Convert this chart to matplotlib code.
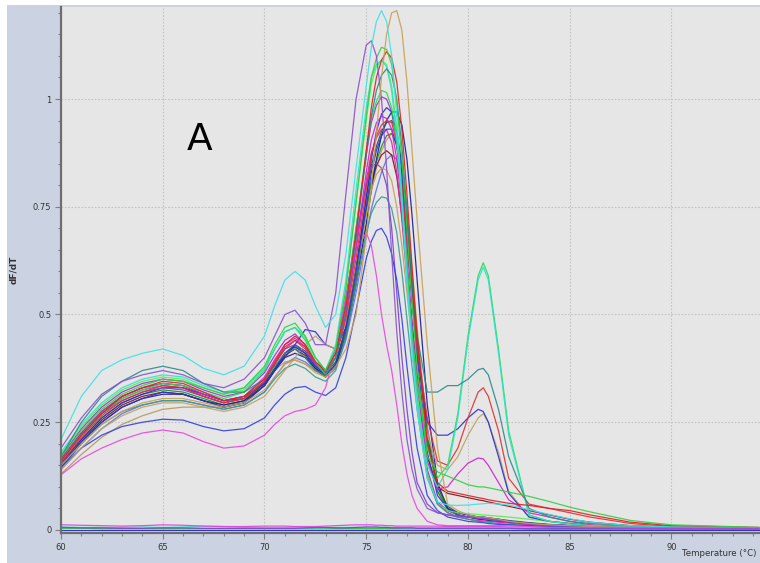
import matplotlib
matplotlib.use('Agg')
import matplotlib.pyplot as plt
import matplotlib.patches as patches
from matplotlib.ticker import MultipleLocator, FixedLocator

# temperature grid shared by all wells (deg C)
temps = [60, 61, 62, 63, 64, 65, 66, 67, 68, 69, 70,
         70.5, 71, 71.5, 72, 72.5, 73, 73.5, 74, 74.5, 75,
         75.25, 75.5, 75.75, 76, 76.25, 76.5, 76.75, 77, 77.25, 77.5,
         78, 78.5, 79, 79.5, 80, 80.5, 80.75, 81, 81.5, 82,
         83, 84, 85, 86, 88, 90, 94.3]

# dF/dT, one list per well
cyan_hi = [0.21, 0.31, 0.37, 0.395, 0.41, 0.42, 0.405, 0.375, 0.36, 0.38, 0.45,
           0.52, 0.58, 0.60, 0.58, 0.52, 0.47, 0.50, 0.64, 0.84, 1.03,
           1.12, 1.18, 1.205, 1.18, 1.10, 0.96, 0.78, 0.58, 0.41, 0.28,
           0.12, 0.065, 0.058, 0.057, 0.058, 0.06, 0.061, 0.062, 0.06, 0.058,
           0.047, 0.036, 0.026, 0.018, 0.01, 0.007, 0.005]
gold_hi = [0.15, 0.20, 0.245, 0.275, 0.295, 0.305, 0.305, 0.295, 0.285, 0.295, 0.325,
           0.355, 0.385, 0.395, 0.385, 0.365, 0.355, 0.38, 0.42, 0.50, 0.68,
           0.80, 0.92, 1.05, 1.15, 1.20, 1.205, 1.16, 1.04, 0.88, 0.72,
           0.43, 0.19, 0.06, 0.045, 0.035, 0.03, 0.03, 0.028, 0.025, 0.02,
           0.015, 0.012, 0.01, 0.008, 0.006, 0.005, 0.004]
purple_left = [0.19, 0.26, 0.315, 0.345, 0.36, 0.37, 0.36, 0.34, 0.33, 0.35, 0.40,
               0.45, 0.50, 0.51, 0.48, 0.43, 0.43, 0.55, 0.78, 1.00, 1.125,
               1.135, 1.10, 1.00, 0.84, 0.64, 0.46, 0.32, 0.21, 0.14, 0.095,
               0.05, 0.04, 0.035, 0.03, 0.03, 0.028, 0.026, 0.025, 0.022, 0.02,
               0.015, 0.012, 0.01, 0.008, 0.006, 0.005, 0.004]
green_tail = [0.17, 0.23, 0.28, 0.315, 0.335, 0.35, 0.345, 0.33, 0.315, 0.33, 0.38,
              0.43, 0.47, 0.48, 0.45, 0.40, 0.37, 0.42, 0.56, 0.76, 0.96,
              1.05, 1.095, 1.12, 1.115, 1.08, 0.99, 0.86, 0.70, 0.53, 0.38,
              0.17, 0.135, 0.125, 0.115, 0.105, 0.10, 0.10, 0.098, 0.093, 0.088,
              0.078, 0.066, 0.053, 0.042, 0.022, 0.012, 0.006]
red_main = [0.16, 0.22, 0.27, 0.31, 0.33, 0.345, 0.34, 0.32, 0.30, 0.31, 0.35,
            0.39, 0.43, 0.45, 0.43, 0.39, 0.37, 0.41, 0.52, 0.69, 0.88,
            0.98, 1.05, 1.09, 1.11, 1.095, 1.04, 0.93, 0.78, 0.61, 0.45,
            0.20, 0.11, 0.09, 0.085, 0.08, 0.075, 0.073, 0.07, 0.066, 0.062,
            0.057, 0.05, 0.045, 0.035, 0.018, 0.01, 0.006]
teal_main = [0.17, 0.25, 0.31, 0.345, 0.37, 0.38, 0.37, 0.34, 0.32, 0.32, 0.35,
             0.38, 0.41, 0.42, 0.40, 0.37, 0.36, 0.40, 0.51, 0.68, 0.87,
             0.96, 1.02, 1.055, 1.07, 1.055, 1.0, 0.89, 0.74, 0.58, 0.45,
             0.32, 0.32, 0.335, 0.335, 0.35, 0.372, 0.375, 0.36, 0.28, 0.17,
             0.05, 0.03, 0.02, 0.015, 0.01, 0.007, 0.005]
pink_low = [0.128, 0.165, 0.19, 0.21, 0.225, 0.232, 0.225, 0.205, 0.19, 0.195, 0.22,
            0.245, 0.265, 0.275, 0.28, 0.29, 0.33, 0.42, 0.54, 0.65, 0.69,
            0.66, 0.59, 0.50, 0.43, 0.37, 0.29, 0.20, 0.13, 0.08, 0.05,
            0.02, 0.012, 0.01, 0.01, 0.01, 0.01, 0.01, 0.01, 0.01, 0.01,
            0.008, 0.006, 0.005, 0.004, 0.003, 0.003, 0.002]
blue_low = [0.146, 0.19, 0.22, 0.24, 0.25, 0.257, 0.255, 0.24, 0.23, 0.235, 0.26,
            0.29, 0.315, 0.33, 0.333, 0.32, 0.312, 0.33, 0.40, 0.51, 0.63,
            0.67, 0.695, 0.70, 0.68, 0.64, 0.58, 0.49, 0.38, 0.28, 0.19,
            0.08, 0.045, 0.03, 0.025, 0.02, 0.018, 0.017, 0.015, 0.013, 0.012,
            0.01, 0.008, 0.006, 0.005, 0.004, 0.003, 0.003]
teal_low = [0.15, 0.20, 0.245, 0.275, 0.29, 0.30, 0.30, 0.29, 0.28, 0.29, 0.32,
            0.35, 0.375, 0.385, 0.375, 0.355, 0.345, 0.37, 0.45, 0.57, 0.69,
            0.735, 0.76, 0.773, 0.77, 0.745, 0.69, 0.60, 0.49, 0.38, 0.28,
            0.12, 0.06, 0.04, 0.03, 0.025, 0.02, 0.019, 0.018, 0.015, 0.013,
            0.01, 0.008, 0.006, 0.005, 0.004, 0.003, 0.003]
green_second = [0.16, 0.22, 0.27, 0.305, 0.325, 0.34, 0.335, 0.32, 0.305, 0.32, 0.37,
                0.42, 0.46, 0.47, 0.44, 0.39, 0.36, 0.40, 0.52, 0.70, 0.88,
                0.955, 0.995, 1.02, 1.015, 0.98, 0.90, 0.77, 0.61, 0.46, 0.34,
                0.19, 0.12, 0.15, 0.27, 0.45, 0.59, 0.62, 0.59, 0.42, 0.23,
                0.035, 0.02, 0.014, 0.01, 0.007, 0.005, 0.004]
cyan_second = [0.18, 0.245, 0.295, 0.33, 0.35, 0.36, 0.355, 0.335, 0.32, 0.33, 0.375,
               0.42, 0.46, 0.47, 0.45, 0.40, 0.37, 0.43, 0.58, 0.79, 0.98,
               1.05, 1.08, 1.09, 1.075, 1.02, 0.91, 0.75, 0.58, 0.43, 0.30,
               0.15, 0.10, 0.14, 0.26, 0.44, 0.58, 0.61, 0.58, 0.41, 0.22,
               0.035, 0.02, 0.014, 0.01, 0.007, 0.005, 0.004]
red_second = [0.155, 0.215, 0.265, 0.30, 0.32, 0.335, 0.33, 0.31, 0.295, 0.305, 0.345,
              0.385, 0.42, 0.44, 0.425, 0.39, 0.37, 0.40, 0.49, 0.63, 0.79,
              0.87, 0.915, 0.94, 0.95, 0.945, 0.90, 0.80, 0.67, 0.54, 0.42,
              0.26, 0.16, 0.15, 0.19, 0.26, 0.32, 0.33, 0.31, 0.23, 0.12,
              0.06, 0.05, 0.04, 0.03, 0.015, 0.008, 0.005]
blue_second = [0.15, 0.205, 0.25, 0.285, 0.305, 0.32, 0.315, 0.30, 0.285, 0.295, 0.335,
               0.37, 0.41, 0.425, 0.41, 0.38, 0.36, 0.385, 0.47, 0.60, 0.75,
               0.83, 0.88, 0.915, 0.93, 0.93, 0.89, 0.80, 0.67, 0.53, 0.41,
               0.25, 0.22, 0.22, 0.235, 0.26, 0.28, 0.275, 0.25, 0.17, 0.085,
               0.03, 0.02, 0.015, 0.01, 0.007, 0.005, 0.004]
gold_second = [0.14, 0.19, 0.235, 0.265, 0.285, 0.295, 0.295, 0.285, 0.275, 0.285, 0.31,
               0.34, 0.37, 0.40, 0.43, 0.45, 0.43, 0.42, 0.48, 0.60, 0.73,
               0.79, 0.825, 0.84, 0.835, 0.81, 0.75, 0.66, 0.55, 0.44, 0.34,
               0.22, 0.15, 0.14, 0.17, 0.22, 0.26, 0.27, 0.25, 0.18, 0.09,
               0.03, 0.02, 0.015, 0.01, 0.007, 0.005, 0.004]
magenta_second = [0.165, 0.225, 0.275, 0.31, 0.33, 0.34, 0.335, 0.315, 0.30, 0.31, 0.355,
                  0.395, 0.43, 0.445, 0.425, 0.385, 0.365, 0.40, 0.50, 0.66, 0.83,
                  0.905, 0.945, 0.96, 0.955, 0.93, 0.86, 0.75, 0.60, 0.46, 0.34,
                  0.16, 0.095, 0.10, 0.13, 0.155, 0.167, 0.165, 0.15, 0.11, 0.07,
                  0.04, 0.03, 0.02, 0.012, 0.007, 0.005, 0.004]
blue_mid = [0.155, 0.21, 0.26, 0.295, 0.315, 0.33, 0.33, 0.315, 0.30, 0.31, 0.34,
            0.37, 0.40, 0.43, 0.465, 0.46, 0.43, 0.42, 0.47, 0.60, 0.77,
            0.86, 0.925, 0.965, 0.98, 0.97, 0.92, 0.83, 0.69, 0.54, 0.40,
            0.18, 0.08, 0.05, 0.04, 0.035, 0.03, 0.03, 0.028, 0.025, 0.02,
            0.015, 0.012, 0.01, 0.008, 0.006, 0.005, 0.004]
navy_late = [0.145, 0.20, 0.25, 0.285, 0.305, 0.315, 0.315, 0.30, 0.29, 0.30, 0.335,
             0.37, 0.40, 0.41, 0.40, 0.375, 0.36, 0.38, 0.45, 0.57, 0.71,
             0.79, 0.86, 0.915, 0.95, 0.97, 0.97, 0.94, 0.86, 0.73, 0.58,
             0.29, 0.11, 0.05, 0.035, 0.03, 0.025, 0.024, 0.022, 0.02, 0.018,
             0.014, 0.011, 0.009, 0.007, 0.005, 0.004, 0.003]
purple_mid = [0.17, 0.235, 0.285, 0.32, 0.34, 0.35, 0.345, 0.325, 0.31, 0.32, 0.365,
              0.405, 0.44, 0.455, 0.43, 0.39, 0.37, 0.41, 0.53, 0.70, 0.87,
              0.945, 0.985, 1.005, 1.0, 0.97, 0.90, 0.78, 0.63, 0.48, 0.35,
              0.14, 0.065, 0.045, 0.035, 0.03, 0.028, 0.027, 0.025, 0.022, 0.02,
              0.015, 0.012, 0.01, 0.008, 0.006, 0.005, 0.004]
magenta_mid = [0.16, 0.22, 0.27, 0.305, 0.325, 0.335, 0.33, 0.31, 0.295, 0.305, 0.345,
               0.385, 0.425, 0.44, 0.42, 0.385, 0.365, 0.40, 0.50, 0.65, 0.81,
               0.875, 0.91, 0.93, 0.928, 0.90, 0.83, 0.72, 0.58, 0.44, 0.31,
               0.13, 0.06, 0.04, 0.03, 0.025, 0.022, 0.021, 0.02, 0.018, 0.016,
               0.012, 0.01, 0.008, 0.006, 0.005, 0.004, 0.003]
green_mid = [0.155, 0.21, 0.26, 0.295, 0.315, 0.325, 0.32, 0.305, 0.29, 0.30, 0.34,
             0.375, 0.41, 0.425, 0.41, 0.375, 0.355, 0.38, 0.46, 0.59, 0.74,
             0.81, 0.855, 0.89, 0.915, 0.92, 0.895, 0.82, 0.70, 0.56, 0.43,
             0.21, 0.09, 0.05, 0.035, 0.03, 0.028, 0.027, 0.026, 0.024, 0.02,
             0.016, 0.012, 0.01, 0.008, 0.006, 0.005, 0.004]
darkred_mid = [0.15, 0.205, 0.255, 0.29, 0.31, 0.32, 0.315, 0.30, 0.285, 0.295, 0.335,
               0.37, 0.405, 0.42, 0.405, 0.375, 0.355, 0.385, 0.46, 0.59, 0.74,
               0.805, 0.845, 0.87, 0.88, 0.87, 0.82, 0.73, 0.61, 0.48, 0.36,
               0.17, 0.10, 0.085, 0.08, 0.075, 0.07, 0.068, 0.065, 0.06, 0.055,
               0.045, 0.035, 0.025, 0.018, 0.01, 0.006, 0.004]
gold_low = [0.13, 0.175, 0.215, 0.245, 0.265, 0.28, 0.285, 0.285, 0.285, 0.30, 0.345,
            0.37, 0.39, 0.394, 0.385, 0.37, 0.36, 0.38, 0.45, 0.57, 0.71,
            0.785, 0.84, 0.88, 0.905, 0.92, 0.91, 0.85, 0.75, 0.61, 0.47,
            0.23, 0.09, 0.045, 0.035, 0.03, 0.027, 0.026, 0.025, 0.022, 0.02,
            0.015, 0.012, 0.01, 0.008, 0.006, 0.005, 0.004]
lime_hi = [0.175, 0.24, 0.29, 0.325, 0.345, 0.355, 0.35, 0.33, 0.315, 0.325, 0.375,
           0.42, 0.46, 0.47, 0.445, 0.40, 0.37, 0.42, 0.56, 0.76, 0.95,
           1.035, 1.075, 1.09, 1.08, 1.03, 0.93, 0.78, 0.61, 0.45, 0.32,
           0.13, 0.06, 0.045, 0.04, 0.038, 0.036, 0.035, 0.034, 0.032, 0.03,
           0.025, 0.02, 0.015, 0.011, 0.007, 0.005, 0.004]
darkgreen_mid = [0.165, 0.225, 0.275, 0.31, 0.33, 0.34, 0.335, 0.315, 0.30, 0.305, 0.34,
                 0.375, 0.41, 0.43, 0.415, 0.385, 0.365, 0.39, 0.47, 0.61, 0.77,
                 0.845, 0.89, 0.925, 0.945, 0.95, 0.925, 0.85, 0.72, 0.57, 0.44,
                 0.22, 0.10, 0.055, 0.04, 0.035, 0.03, 0.03, 0.028, 0.025, 0.022,
                 0.017, 0.013, 0.01, 0.008, 0.006, 0.005, 0.004]
slate_mid = [0.14, 0.19, 0.235, 0.27, 0.29, 0.30, 0.30, 0.29, 0.28, 0.29, 0.32,
             0.355, 0.385, 0.40, 0.39, 0.37, 0.355, 0.375, 0.44, 0.55, 0.68,
             0.745, 0.79, 0.83, 0.86, 0.87, 0.86, 0.80, 0.70, 0.57, 0.45,
             0.24, 0.10, 0.05, 0.035, 0.03, 0.027, 0.026, 0.025, 0.022, 0.02,
             0.015, 0.012, 0.01, 0.008, 0.006, 0.005, 0.004]
purple_early = [0.16, 0.22, 0.27, 0.30, 0.32, 0.33, 0.325, 0.31, 0.295, 0.305, 0.345,
                0.385, 0.42, 0.43, 0.41, 0.38, 0.365, 0.42, 0.54, 0.68, 0.80,
                0.845, 0.85, 0.84, 0.80, 0.70, 0.55, 0.40, 0.28, 0.18, 0.11,
                0.06, 0.04, 0.035, 0.033, 0.03, 0.028, 0.027, 0.025, 0.022, 0.02,
                0.015, 0.012, 0.01, 0.008, 0.006, 0.005, 0.004]
# negative controls, flat near zero
ntc_magenta = [0.012, 0.011, 0.010, 0.009, 0.010, 0.012, 0.011, 0.009, 0.008, 0.008, 0.009,
               0.009, 0.009, 0.008, 0.008, 0.008, 0.009, 0.010, 0.011, 0.012, 0.012,
               0.012, 0.011, 0.011, 0.010, 0.010, 0.009, 0.009, 0.009, 0.009, 0.009,
               0.009, 0.009, 0.008, 0.008, 0.008, 0.008, 0.008, 0.008, 0.008, 0.007,
               0.007, 0.006, 0.006, 0.006, 0.005, 0.005, 0.005]
ntc_cyan = [0.007, 0.006, 0.006, 0.006, 0.007, 0.006, 0.007, 0.009, 0.008, 0.006, 0.005,
            0.005, 0.005, 0.005, 0.005, 0.005, 0.005, 0.006, 0.006, 0.006, 0.006,
            0.006, 0.006, 0.006, 0.006, 0.006, 0.006, 0.005, 0.005, 0.005, 0.005,
            0.005, 0.005, 0.005, 0.005, 0.005, 0.005, 0.005, 0.005, 0.005, 0.004,
            0.004, 0.004, 0.004, 0.004, 0.003, 0.003, 0.003]
ntc_green = [0.004, 0.004, 0.003, 0.003, 0.003, 0.003, 0.003, 0.003, 0.003, 0.003, 0.003,
             0.003, 0.003, 0.003, 0.003, 0.003, 0.003, 0.003, 0.003, 0.003, 0.003,
             0.003, 0.003, 0.003, 0.003, 0.003, 0.003, 0.003, 0.003, 0.003, 0.003,
             0.003, 0.003, 0.003, 0.003, 0.003, 0.003, 0.003, 0.003, 0.003, 0.003,
             0.002, 0.002, 0.002, 0.002, 0.002, 0.002, 0.002]
ntc_purple = [0.006, 0.005, 0.005, 0.004, 0.004, 0.005, 0.005, 0.004, 0.004, 0.004, 0.004,
              0.004, 0.004, 0.004, 0.005, 0.006, 0.006, 0.005, 0.005, 0.006, 0.007,
              0.007, 0.007, 0.006, 0.006, 0.005, 0.005, 0.005, 0.005, 0.005, 0.004,
              0.004, 0.004, 0.004, 0.004, 0.004, 0.004, 0.004, 0.004, 0.004, 0.004,
              0.003, 0.003, 0.003, 0.003, 0.003, 0.003, 0.003]
ntc_blue = [0.001, 0.001, 0.001, 0.001, 0.001, 0.001, 0.001, 0.001, 0.001, 0.001, 0.001,
            0.001, 0.001, 0.001, 0.001, 0.001, 0.001, 0.001, 0.001, 0.001, 0.001,
            0.001, 0.001, 0.001, 0.001, 0.001, 0.001, 0.001, 0.001, 0.001, 0.001,
            0.001, 0.001, 0.001, 0.001, 0.001, 0.001, 0.001, 0.001, 0.001, 0.001,
            0.001, 0.001, 0.001, 0.001, 0.001, 0.001, 0.001]

wells = [
    (slate_mid, '#5a6ff0'), (gold_low, '#b8985a'), (darkred_mid, '#8b0a1a'),
    (green_mid, '#109a10'), (navy_late, '#1a1a90'), (darkgreen_mid, '#1d5a3a'),
    (magenta_mid, '#e0209a'), (purple_mid, '#9b30d0'), (blue_mid, '#2828d8'),
    (purple_early, '#7a40c8'), (lime_hi, '#50f050'), (teal_low, '#3a9a90'),
    (blue_low, '#3040e0'), (pink_low, '#e848e0'), (gold_second, '#c0a060'),
    (blue_second, '#2a30d0'), (magenta_second, '#d020d0'), (red_second, '#e03030'),
    (green_second, '#20e050'), (cyan_second, '#30e0c8'), (teal_main, '#2a8a8a'),
    (red_main, '#e02020'), (green_tail, '#30d040'), (purple_left, '#8a4fd0'),
    (gold_hi, '#c8a050'), (cyan_hi, '#40e0e8'),
    (ntc_green, '#20c020'), (ntc_cyan, '#40d8e0'), (ntc_purple, '#8040c0'),
    (ntc_blue, '#2020d0'), (ntc_magenta, '#e040e0'),
]

for i, (vals, col) in enumerate(wells):
    if len(vals) != len(temps):
        raise ValueError('well %d has %d values' % (i, len(vals)))

fig = plt.figure(figsize=(7.6, 5.63), dpi=100)
fig.patch.set_facecolor('white')
# blue-grey panel behind the plot
fig.patches.append(patches.Rectangle((7 / 760, 0), 1, 1 - 5 / 563,
                                     transform=fig.transFigure,
                                     facecolor='#cbd3e2', edgecolor='none',
                                     zorder=-10))

ax = fig.add_axes([61 / 760, 1 - 533 / 563, 1 - 61 / 760, (533 - 7) / 563])
ax.set_facecolor('#e6e6e6')

for vals, col in wells:
    ax.plot(temps, vals, color=col, lw=0.9, alpha=0.9)

ax.set_xlim(60, 94.35)
ax.set_ylim(-0.007, 1.2135)

ax.xaxis.set_major_locator(FixedLocator([60, 65, 70, 75, 80, 85, 90]))
ax.xaxis.set_minor_locator(MultipleLocator(1))
ax.yaxis.set_major_locator(FixedLocator([0, 0.25, 0.5, 0.75, 1]))
ax.yaxis.set_minor_locator(MultipleLocator(0.05))
ax.set_xticklabels(['60', '65', '70', '75', '80', '85', '90'])
ax.set_yticklabels(['0', '0.25', '0.5', '0.75', '1'])
ax.tick_params(which='both', direction='out', color='#808080', labelsize=6,
               labelcolor='#333333', width=0.8)
ax.tick_params(which='major', length=4, pad=3)
ax.tick_params(which='minor', length=2.5)

ax.grid(True, which='major', color='#c4c4c4', linestyle=(0, (1.5, 1.5)), lw=0.8)
ax.set_axisbelow(True)

for side in ['top', 'right']:
    ax.spines[side].set_visible(False)
for side in ['left', 'bottom']:
    ax.spines[side].set_color('#6e6e6e')
    ax.spines[side].set_linewidth(1.6)

ax.text(66.8, 0.905, 'A', fontsize=27, ha='center', va='center', color='black')

fig.text(14 / 760, 1 - 270 / 563, 'dF/dT', rotation=90, fontsize=6.5,
         fontweight='bold', color='#333333', ha='center', va='center')
fig.text(756 / 760, 1 - 553 / 563, 'Temperature (\u00b0C)', fontsize=6.2,
         color='#333333', ha='right', va='center')

fig.savefig('out.png', dpi=100)
